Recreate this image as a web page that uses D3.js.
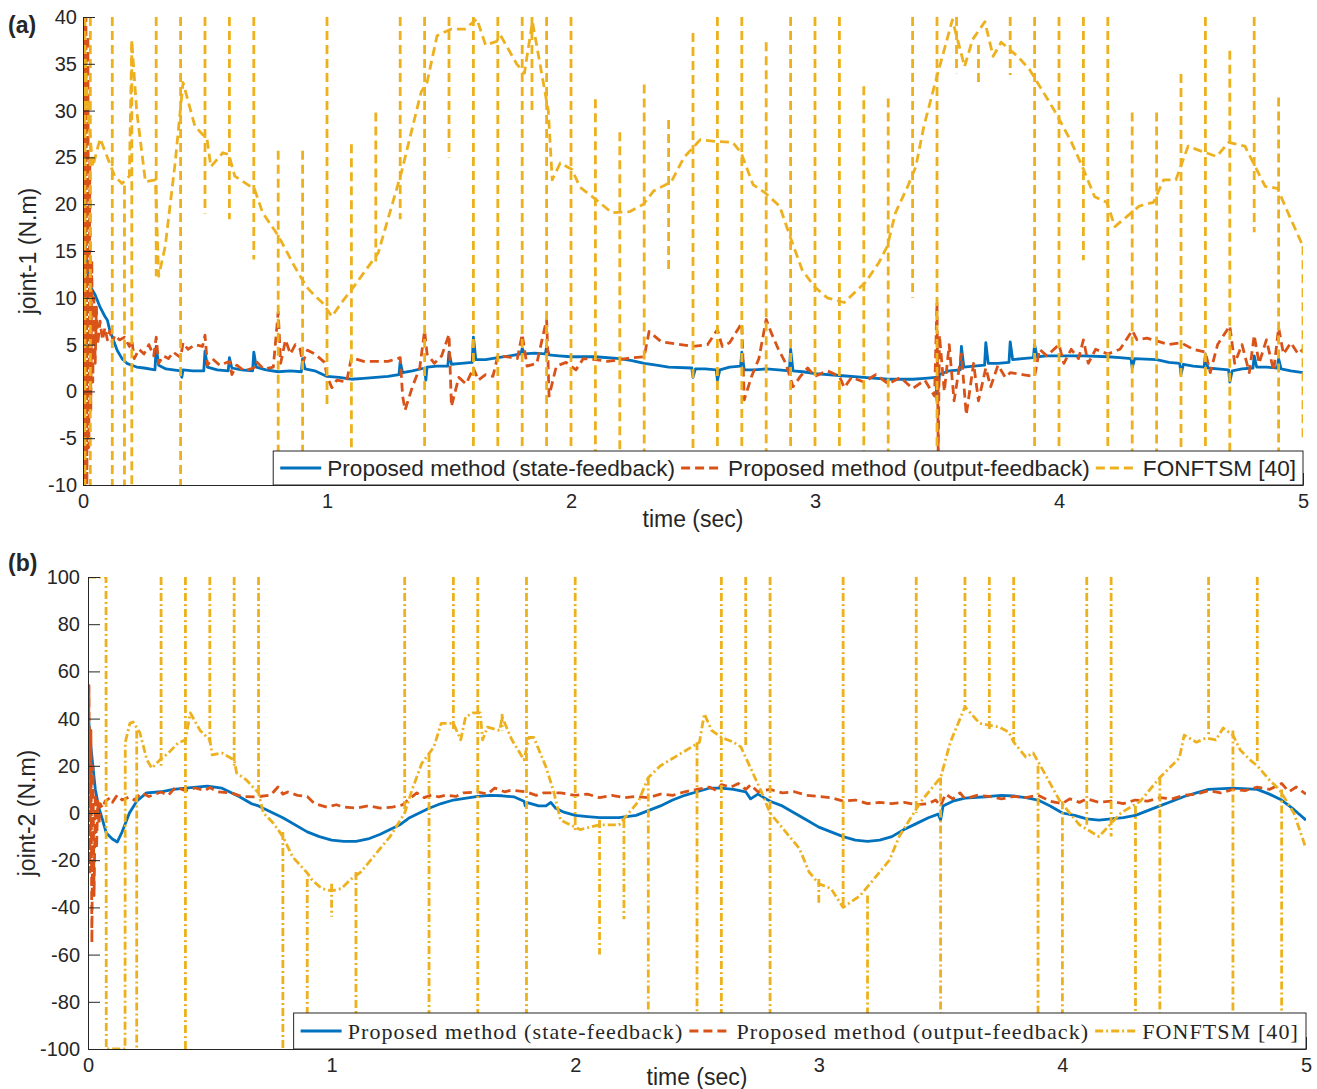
<!DOCTYPE html>
<html>
<head>
<meta charset="utf-8">
<script src="https://cdn.jsdelivr.net/npm/d3@7"></script>
<style>
body { margin: 0; background: #fff; }
text { fill: #262626; }
</style>
</head>
<body>
<svg id="chart" width="1317" height="1089"></svg>
<script>
// ---- data ----
var timeTicks = [0, 1, 2, 3, 4, 5];
var joint1Ticks = [-10, -5, 0, 5, 10, 15, 20, 25, 30, 35, 40];
var joint2Ticks = [-100, -80, -60, -40, -20, 0, 20, 40, 60, 80, 100];
var seriesNames = ["Proposed method (state-feedback)", "Proposed method (output-feedback)", "FONFTSM [40]"];

// joint-1, state feedback [t, torque]
var j1State = [[0,40],[0.004,22],[0.01,15],[0.02,12.5],[0.03,11.2],[0.05,10.3],[0.07,9],[0.09,8],[0.1,7.6],[0.11,6.5],[0.12,5.8],[0.14,4.4],[0.16,3.5],[0.18,3],[0.2,2.8],[0.22,2.6],[0.25,2.5],[0.295,2.3],[0.3,4.8],[0.31,2.8],[0.34,2.4],[0.4,2.2],[0.405,1.5],[0.41,2.3],[0.45,2.2],[0.495,2.2],[0.5,4.3],[0.51,2.6],[0.55,2.3],[0.595,2.2],[0.6,3.6],[0.61,2.5],[0.65,2.3],[0.695,2.2],[0.7,4.2],[0.71,2.6],[0.75,2.3],[0.8,2.1],[0.85,2.2],[0.895,2.1],[0.9,3.5],[0.91,2.4],[0.95,2.2],[1.0,1.6],[1.05,1.5],[1.1,1.3],[1.15,1.4],[1.2,1.5],[1.25,1.6],[1.295,1.8],[1.3,3.2],[1.31,2],[1.35,2.2],[1.4,2.5],[1.405,1.2],[1.41,2.6],[1.45,2.7],[1.495,2.7],[1.5,4.2],[1.51,2.9],[1.55,3],[1.595,3.1],[1.6,5.8],[1.61,3.4],[1.65,3.4],[1.7,3.6],[1.75,3.8],[1.795,4],[1.8,4.6],[1.81,4],[1.85,4.1],[1.895,4],[1.9,4.8],[1.91,3.9],[1.95,3.8],[2.0,3.7],[2.1,3.7],[2.2,3.5],[2.25,3.3],[2.3,3],[2.35,2.8],[2.4,2.6],[2.495,2.5],[2.5,1.5],[2.51,2.4],[2.55,2.4],[2.595,2.3],[2.6,1.2],[2.61,2.3],[2.65,2.6],[2.695,2.7],[2.7,4.2],[2.71,2.3],[2.75,2.3],[2.8,2.4],[2.85,2.3],[2.895,2.2],[2.9,4.5],[2.91,2.2],[2.95,2.1],[3.0,1.9],[3.1,1.7],[3.2,1.5],[3.3,1.3],[3.4,1.3],[3.45,1.4],[3.495,1.5],[3.5,-1],[3.51,1.8],[3.55,2.2],[3.595,2.3],[3.6,4.8],[3.61,2.6],[3.65,2.7],[3.695,2.8],[3.7,5.2],[3.71,3],[3.75,3],[3.795,3.1],[3.8,5.3],[3.81,3.4],[3.85,3.5],[3.895,3.6],[3.9,5],[3.91,3.7],[3.95,3.8],[4.0,3.8],[4.1,3.8],[4.2,3.7],[4.25,3.6],[4.295,3.5],[4.3,2.5],[4.31,3.5],[4.4,3.4],[4.45,3.1],[4.495,3],[4.5,1.8],[4.51,2.9],[4.55,2.7],[4.595,2.6],[4.6,4],[4.61,2.5],[4.65,2.4],[4.695,2.3],[4.7,1],[4.71,2.2],[4.75,2.4],[4.795,2.5],[4.8,3.8],[4.81,2.6],[4.85,2.6],[4.895,2.5],[4.9,3.5],[4.91,2.4],[4.95,2.2],[5,2]];

// joint-1, output feedback
var j1Output = [[0,-10],[0.004,40],[0.008,-10],[0.012,40],[0.016,-10],[0.02,38],[0.024,-6],[0.028,25],[0.032,-2],[0.036,14],[0.04,1],[0.045,10],[0.05,3],[0.055,9],[0.06,5],[0.07,7.5],[0.08,5.5],[0.09,6.8],[0.1,5.5],[0.11,6.5],[0.12,5.2],[0.13,6],[0.15,5.5],[0.17,5.8],[0.19,4.8],[0.2,5.5],[0.21,3.5],[0.23,4.5],[0.25,4],[0.27,5],[0.29,3.8],[0.3,5.8],[0.31,3],[0.33,3.8],[0.35,3.5],[0.37,4.2],[0.4,3.6],[0.41,5.2],[0.43,4.5],[0.46,5],[0.49,4.8],[0.5,6],[0.51,2.8],[0.53,3.5],[0.56,2.8],[0.6,3.2],[0.61,1.8],[0.63,2.8],[0.66,2.2],[0.7,2.5],[0.71,3.2],[0.74,2.4],[0.78,2.6],[0.8,8.5],[0.81,3],[0.83,5.5],[0.85,4],[0.87,5],[0.89,4.5],[0.9,3],[0.92,4.4],[0.95,4],[0.99,3.1],[1.0,1.6],[1.02,0.4],[1.04,1.2],[1.08,1],[1.1,3.6],[1.15,3.2],[1.25,3.2],[1.3,3.6],[1.31,-0.5],[1.32,-2],[1.35,0.5],[1.38,2.5],[1.4,6.5],[1.41,4],[1.44,3],[1.47,3.8],[1.5,6.1],[1.51,-1.6],[1.54,1.5],[1.57,0.8],[1.6,2.5],[1.62,1.2],[1.65,1.8],[1.68,1.6],[1.7,3.8],[1.74,3.7],[1.78,3.5],[1.8,6.1],[1.82,2.7],[1.86,3],[1.9,7.7],[1.905,4],[1.91,-0.5],[1.94,2.7],[1.98,3.1],[2.02,2.3],[2.05,3.5],[2.1,3.4],[2.15,3.2],[2.2,3.4],[2.25,3.6],[2.3,3.7],[2.32,6.4],[2.37,5.3],[2.45,5],[2.5,4.8],[2.56,5],[2.6,6.6],[2.62,4.8],[2.65,5.2],[2.7,7.3],[2.71,-0.9],[2.74,1.6],[2.77,3.5],[2.8,7.7],[2.82,6.3],[2.85,4.5],[2.88,3],[2.91,0.5],[2.94,1.6],[2.97,2.5],[3.0,1.6],[3.05,2.2],[3.1,1.6],[3.12,0.4],[3.15,1.5],[3.2,1],[3.25,1.8],[3.3,0.8],[3.35,1.5],[3.4,0.3],[3.45,1.2],[3.49,-0.5],[3.5,9.5],[3.505,-7],[3.51,6],[3.53,0],[3.55,5],[3.57,-1],[3.6,4],[3.62,-2.5],[3.65,3],[3.67,-1],[3.7,2.5],[3.72,0.5],[3.75,2.8],[3.78,1.5],[3.8,2],[3.85,1.8],[3.9,1.6],[3.92,4.5],[3.95,3.8],[4.0,5],[4.02,3],[4.05,4.5],[4.08,3.5],[4.1,5.5],[4.12,3],[4.15,4.5],[4.2,4],[4.25,4.5],[4.3,6.5],[4.32,5.5],[4.36,5.7],[4.4,5.4],[4.45,5],[4.5,5.2],[4.55,4.5],[4.6,4.2],[4.62,2],[4.65,5],[4.7,7],[4.72,3],[4.75,5],[4.78,2],[4.8,6],[4.82,3],[4.85,5.5],[4.88,2.2],[4.9,6.8],[4.92,4],[4.95,5.2],[4.98,4],[5,4.5]];

// joint-1, FONFTSM: slow part and the chattering spikes [t, low, high]
var j1Fon = [[0,40],[0.02,30],[0.04,24],[0.07,27],[0.1,25],[0.13,23],[0.16,22.2],[0.19,23],[0.2,37.4],[0.22,30],[0.256,22.4],[0.297,22.6],[0.31,12.3],[0.337,15.5],[0.378,24.5],[0.41,33],[0.459,28.3],[0.508,27],[0.524,24],[0.573,25.5],[0.598,25.3],[0.622,23],[0.703,21.6],[0.736,19.1],[0.801,16.6],[0.866,13.4],[0.915,11.2],[0.94,10.5],[0.98,9.5],[1.02,8],[1.06,9.5],[1.11,11.2],[1.21,14.8],[1.305,23.4],[1.386,32],[1.41,33],[1.451,38],[1.508,38.7],[1.565,38.7],[1.614,39.8],[1.65,37],[1.695,37.4],[1.712,38],[1.777,35],[1.809,34],[1.842,39.5],[1.907,30],[1.923,22.6],[1.956,24.4],[2.004,23.7],[2.037,21.8],[2.102,20.5],[2.167,19.1],[2.24,19.2],[2.297,20],[2.338,21.4],[2.411,22.4],[2.463,25],[2.53,26.9],[2.597,26.7],[2.663,26.6],[2.697,25.5],[2.746,22.1],[2.796,21.2],[2.855,19.8],[2.897,16.6],[2.947,13],[2.997,11.2],[3.05,10],[3.12,9.5],[3.16,10.5],[3.205,11.6],[3.263,13.8],[3.296,15.5],[3.33,19.1],[3.38,21.9],[3.413,24],[3.446,28.3],[3.496,33.3],[3.563,39.7],[3.613,34.7],[3.646,37.6],[3.696,39.5],[3.73,35.8],[3.763,37.3],[3.83,35.8],[3.879,34.4],[3.979,30.1],[4.046,26.9],[4.096,24],[4.146,20.8],[4.196,20.2],[4.229,17.6],[4.279,18.7],[4.329,19.8],[4.387,20.2],[4.429,22.6],[4.479,22.6],[4.529,26.2],[4.579,25.7],[4.646,25.1],[4.695,26.6],[4.762,26.2],[4.845,21.9],[4.895,21.7],[4.945,18.7],[5,15.5]];
var j1FonSpikes = [[0.008,-10,40],[0.03,-10,40],[0.12,-10,40],[0.17,-10,22],[0.2,-10,37.4],[0.3,12.3,40],[0.4,-10,40],[0.5,19,40],[0.6,18.4,40],[0.7,14.1,40],[0.8,-10,25.7],[0.9,-10,25.7],[1.0,-1.5,40],[1.1,-10,26.4],[1.2,13.4,29.8],[1.3,18.4,40],[1.4,-10,40],[1.5,25,40],[1.6,-10,40],[1.7,-10,40],[1.8,-10,40],[1.84,30,40],[1.9,-10,40],[2.0,-10,40],[2.1,-10,31.2],[2.2,-10,27.7],[2.3,-10,32.8],[2.4,13,29],[2.5,-10,38.3],[2.6,-10,40],[2.7,-10,40],[2.8,-10,37.3],[2.9,-10,40],[3.0,-10,40],[3.1,-10,40],[3.2,-10,32.6],[3.3,-10,31.3],[3.4,10,40],[3.5,-10,40],[3.58,34,40],[3.67,33,37],[3.8,33.8,40],[3.9,-10,40],[4.0,-10,40],[4.1,14,40],[4.2,-10,40],[4.3,-10,29.8],[4.4,-10,29.8],[4.5,-10,33.9],[4.6,-10,40],[4.7,-10,36.4],[4.8,17,40],[4.9,-10,31.4],[5.0,-5,15.5]];

// joint-2, state feedback
var j2State = [[0,43],[0.01,30],[0.02,20],[0.03,10],[0.045,2],[0.06,-3],[0.075,-8.5],[0.1,-11],[0.12,-12.3],[0.14,-8],[0.17,0],[0.2,5],[0.24,8.5],[0.3,9],[0.35,10],[0.4,10.5],[0.49,11.4],[0.55,10.5],[0.58,9],[0.62,7],[0.67,4],[0.7,3],[0.8,-2],[0.9,-8],[0.95,-10],[1.0,-11.5],[1.05,-12],[1.1,-12],[1.15,-11],[1.2,-9],[1.28,-5],[1.32,-2],[1.4,2],[1.45,4],[1.5,5.5],[1.6,7],[1.65,7.5],[1.7,7.3],[1.75,6.8],[1.79,5],[1.795,3],[1.8,4.5],[1.85,3],[1.88,3],[1.9,4.5],[1.92,2],[1.95,0.5],[2.0,-1],[2.05,-1.5],[2.1,-2],[2.18,-2],[2.25,-1],[2.3,1],[2.35,3],[2.4,5.5],[2.45,7.5],[2.5,9],[2.55,10.5],[2.6,10.5],[2.65,10],[2.7,9],[2.72,6],[2.75,8],[2.8,5],[2.85,3],[2.9,0],[2.95,-3],[3.0,-6],[3.05,-8],[3.1,-10],[3.15,-11.5],[3.2,-12],[3.25,-11.5],[3.3,-10],[3.35,-7],[3.4,-4.5],[3.45,-2],[3.49,-0.5],[3.5,-3],[3.51,3],[3.55,5],[3.6,6.3],[3.7,7],[3.75,7.5],[3.8,7.2],[3.85,6.5],[3.9,5.5],[3.95,3],[4.0,0],[4.05,-1],[4.1,-2.5],[4.15,-3],[4.2,-2.5],[4.25,-2],[4.3,-1],[4.35,1],[4.4,3],[4.45,5],[4.5,7],[4.55,8.5],[4.6,10],[4.7,10.5],[4.8,10],[4.85,8],[4.9,5.5],[4.95,1.5],[5,-3]];

// joint-2, output feedback
var j2Output = [[0,0],[0.004,54],[0.008,-25],[0.012,35],[0.016,-55],[0.02,20],[0.025,-35],[0.03,8],[0.035,-15],[0.04,5],[0.045,-5],[0.05,4],[0.06,2],[0.07,5],[0.09,6.4],[0.1,4.5],[0.12,7.6],[0.14,5.5],[0.17,6.8],[0.19,5.5],[0.22,8.5],[0.25,7],[0.3,8.9],[0.33,7.5],[0.36,11],[0.4,9.5],[0.44,10.6],[0.48,9.5],[0.5,10.8],[0.53,9],[0.59,8.5],[0.63,7],[0.69,6.8],[0.75,7.6],[0.78,11],[0.8,8],[0.82,8.9],[0.86,7.5],[0.9,7],[0.93,4],[0.98,2.5],[1.02,3.5],[1.05,2.5],[1.1,2.1],[1.15,3],[1.2,2.1],[1.25,2.5],[1.29,3.4],[1.32,6],[1.35,8.5],[1.38,6.5],[1.41,7.6],[1.44,6.8],[1.47,7.6],[1.51,7],[1.54,8.5],[1.6,8.9],[1.64,8],[1.67,10.6],[1.71,9],[1.74,9.7],[1.8,8.9],[1.84,7.5],[1.87,8.5],[1.94,8.5],[2.0,7.5],[2.05,8],[2.1,6.5],[2.15,7.5],[2.2,6.5],[2.25,7],[2.3,6.5],[2.35,8],[2.4,7.5],[2.45,9],[2.5,10],[2.55,11],[2.58,9.5],[2.6,12],[2.64,11],[2.67,12.5],[2.7,10],[2.72,12],[2.75,9],[2.8,10],[2.85,8.5],[2.9,9],[2.95,7.5],[3.0,7],[3.05,6.5],[3.1,5],[3.15,5.5],[3.2,4],[3.25,4.5],[3.3,4],[3.35,4.5],[3.4,3.5],[3.45,4],[3.48,5.5],[3.5,3],[3.52,8],[3.55,6],[3.58,8.5],[3.6,6],[3.65,7.5],[3.7,7],[3.75,6],[3.8,7],[3.85,6.5],[3.9,7.5],[3.95,5],[4.0,4],[4.03,6],[4.07,4.5],[4.1,6],[4.15,4.5],[4.2,5],[4.25,4],[4.3,5.5],[4.35,5],[4.4,6.5],[4.45,6],[4.5,7.5],[4.55,8],[4.6,9.5],[4.65,8.5],[4.7,10],[4.75,9.5],[4.8,11],[4.85,10],[4.9,12.5],[4.93,9],[4.96,11],[5,8]];

// joint-2, FONFTSM
var j2Fon = [[0,100],[0.074,100],[0.075,-100],[0.152,-100],[0.153,30],[0.172,38],[0.185,38.6],[0.213,34],[0.242,22.5],[0.262,19],[0.295,22.5],[0.33,25.4],[0.37,29.7],[0.4,31],[0.42,42.4],[0.46,35],[0.5,31],[0.51,24.6],[0.55,25.4],[0.6,22.5],[0.61,17],[0.65,14],[0.7,8.5],[0.72,0],[0.76,-4.2],[0.8,-10],[0.84,-18.6],[0.9,-25.4],[0.92,-28.4],[0.96,-32],[1.0,-33],[1.04,-32],[1.08,-28],[1.12,-25],[1.2,-15],[1.24,-10],[1.3,0],[1.33,9.7],[1.37,21],[1.42,28],[1.45,38],[1.5,38],[1.53,31],[1.55,40.7],[1.58,42.4],[1.61,42.4],[1.62,31],[1.64,36.4],[1.69,35],[1.7,40.7],[1.74,31],[1.79,22.5],[1.81,32],[1.83,32],[1.88,19.5],[1.91,9.7],[1.94,-3],[2.0,-6],[2.02,-7],[2.1,-5],[2.18,-5],[2.26,5],[2.3,15],[2.35,20],[2.43,25],[2.51,30],[2.53,42],[2.56,35],[2.6,32],[2.65,30],[2.68,28],[2.76,10],[2.8,0],[2.88,-10],[2.92,-15],[2.96,-25],[3.0,-30],[3.05,-32],[3.1,-40],[3.17,-35],[3.21,-30],[3.25,-25],[3.29,-20],[3.33,-10],[3.42,5],[3.5,15],[3.54,30],[3.58,40],[3.6,45],[3.66,38],[3.74,36.4],[3.78,34.3],[3.8,30],[3.85,23.7],[3.88,25.4],[3.91,20],[3.99,5],[4.07,-5],[4.15,-10],[4.24,0],[4.32,5],[4.4,15],[4.48,23.3],[4.5,33],[4.55,30],[4.59,31.8],[4.63,31],[4.66,36],[4.7,33],[4.73,26.7],[4.77,22.5],[4.8,20],[4.85,14],[4.89,10],[4.95,0],[5,-15]];
var j2FonSpikes = [[0.2,-100,35],[0.3,20,100],[0.4,-100,100],[0.5,30,100],[0.6,20,100],[0.7,8,100],[0.8,-100,-8],[0.9,-100,-28],[1.0,-44,-30],[1.1,-85,-25],[1.3,0,100],[1.4,-100,25],[1.5,35,100],[1.6,-100,100],[1.7,35,42],[1.8,-100,100],[2.0,-8,100],[2.1,-60,-3],[2.2,-45,-3],[2.3,-100,15],[2.5,-100,30],[2.6,-100,100],[2.7,28,100],[2.8,-100,100],[3.0,-38,-28],[3.1,-40,100],[3.2,-100,-35],[3.4,0,100],[3.5,-100,15],[3.6,45,100],[3.7,35,100],[3.8,30,100],[3.9,-100,20],[4.0,-100,5],[4.1,-5,100],[4.2,-10,100],[4.3,-100,3],[4.4,-100,15],[4.6,33,100],[4.7,-100,35],[4.8,22,100],[4.9,-100,10]];

// ---- drawing ----
var colors = ["#0072BD", "#D95319", "#EDB120"];
var axisColor = "#262626";
var sans = "'Liberation Sans', Arial, sans-serif";
var lw = 2.8;
var svg = d3.select("#chart");

function drawPanel(cfg) {
    var x = d3.scaleLinear().domain([0, 5]).range([cfg.left, cfg.right]);
    var y = d3.scaleLinear().domain(cfg.yDomain).range([cfg.bottom, cfg.top]);
    var g = svg.append("g");

    g.append("clipPath").attr("id", cfg.id + "-clip")
        .append("rect")
        .attr("x", cfg.left).attr("y", cfg.top)
        .attr("width", cfg.right - cfg.left).attr("height", cfg.bottom - cfg.top);

    var line = d3.line()
        .x(function (d) { return x(d[0]); })
        .y(function (d) { return y(d[1]); });

    var plot = g.append("g").attr("clip-path", "url(#" + cfg.id + "-clip)");

    var dashes = [null, "9,5", cfg.fonDash];

    function addLine(data, i) {
        plot.append("path")
            .datum(data)
            .attr("d", line)
            .attr("fill", "none")
            .attr("stroke", colors[i])
            .attr("stroke-width", lw)
            .attr("stroke-linejoin", "round")
            .attr("stroke-dasharray", dashes[i]);
    }
    addLine(cfg.state, 0);
    addLine(cfg.output, 1);
    addLine(cfg.fon, 2);
    cfg.spikes.forEach(function (s) {
        addLine([[s[0], s[2]], [s[0], s[1]]], 2);
    });

    // axes (MATLAB style: inward ticks, left + bottom only)
    var fmt = function (d) { return String(d); };
    var xAxis = d3.axisBottom(x).tickValues(timeTicks).tickFormat(fmt)
        .tickSize(-12).tickSizeOuter(0).tickPadding(cfg.xPad);
    var yAxis = d3.axisLeft(y).tickValues(cfg.yTicks).tickFormat(fmt)
        .tickSize(-12).tickSizeOuter(0).tickPadding(cfg.yPad);

    var gx = g.append("g").attr("transform", "translate(0," + cfg.bottom + ")").call(xAxis);
    var gy = g.append("g").attr("transform", "translate(" + cfg.left + ",0)").call(yAxis);
    [gx, gy].forEach(function (a) {
        a.selectAll("path,line").attr("stroke", axisColor).attr("stroke-width", 1);
        a.selectAll("text").attr("fill", axisColor)
            .style("font-family", sans)
            .style("font-size", "20px");
    });

    g.append("text")
        .attr("x", (cfg.left + cfg.right) / 2)
        .attr("y", cfg.xLabelY)
        .attr("text-anchor", "middle")
        .style("font-family", sans)
        .style("font-size", "23px")
        .text("time (sec)");

    g.append("text")
        .attr("transform", "translate(" + cfg.yLabelX + "," + ((cfg.top + cfg.bottom) / 2) + ") rotate(-90)")
        .attr("text-anchor", "middle")
        .style("font-family", sans)
        .style("font-size", "23px")
        .text(cfg.yLabel);

    g.append("text")
        .attr("x", 8).attr("y", cfg.tagY)
        .style("font-family", sans)
        .style("font-size", "23px")
        .style("font-weight", "bold")
        .text(cfg.tag);

    // legend, anchored to the lower right corner of the axes
    var leg = g.append("g");
    var box = leg.append("rect")
        .attr("fill", "#fff").attr("stroke", axisColor).attr("stroke-width", 1);
    var pad = 7, sample = 41, gap = 6;
    var cx = 0;
    var items = [];
    seriesNames.forEach(function (name, i) {
        var it = leg.append("g");
        it.append("line")
            .attr("x1", cx).attr("x2", cx + sample)
            .attr("y1", 0).attr("y2", 0)
            .attr("stroke", colors[i]).attr("stroke-width", lw)
            .attr("stroke-dasharray", dashes[i]);
        var t = it.append("text")
            .attr("x", cx + sample + gap)
            .attr("y", 0).attr("dy", "0.35em")
            .style("font-family", cfg.legendFont)
            .style("font-size", cfg.legendSize)
            .style("letter-spacing", cfg.legendSpacing)
            .text(name);
        cx += sample + gap + t.node().getComputedTextLength() + gap;
        items.push(it);
    });
    var w = pad + cx + 1;
    var h = cfg.legendH;
    var lx = cfg.right - w, ly = cfg.bottom - h;
    box.attr("x", lx).attr("y", ly).attr("width", w).attr("height", h);
    items.forEach(function (it) {
        it.attr("transform", "translate(" + (lx + pad) + "," + (ly + h / 2) + ")");
    });
}

drawPanel({
    id: "a", tag: "(a)", tagY: 33,
    left: 83, right: 1303, top: 17, bottom: 485,
    yDomain: [-10, 40], yTicks: joint1Ticks, yLabel: "joint-1 (N.m)",
    xPad: 9, yPad: 6, xLabelY: 527, yLabelX: 36,
    state: j1State, output: j1Output, fon: j1Fon, spikes: j1FonSpikes,
    fonDash: "9,5",
    legendFont: sans, legendSize: "22.6px", legendSpacing: "0px", legendH: 34
});

drawPanel({
    id: "b", tag: "(b)", tagY: 571,
    left: 88, right: 1306, top: 577, bottom: 1049,
    yDomain: [-100, 100], yTicks: joint2Ticks, yLabel: "joint-2 (N.m)",
    xPad: 9, yPad: 8, xLabelY: 1085, yLabelX: 35,
    state: j2State, output: j2Output, fon: j2Fon, spikes: j2FonSpikes,
    fonDash: "8,3,2,3",
    legendFont: "'Liberation Serif', 'Times New Roman', serif", legendSize: "22px", legendSpacing: "1.1px", legendH: 36
});
</script>
</body>
</html>
